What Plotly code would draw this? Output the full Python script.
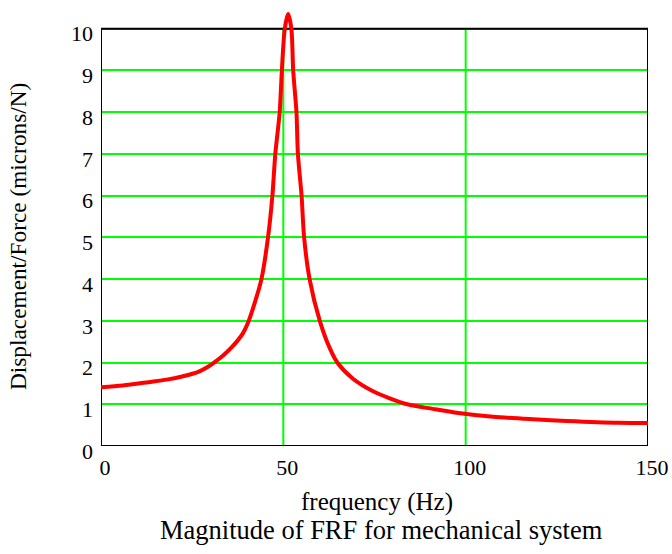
import plotly.graph_objects as go

freq_hz = [0, 6, 13, 18, 22.5, 27, 29, 31, 33.5, 36, 38.9, 40.6, 42.4, 44, 45.8, 47, 47.8, 49,
           49.6, 50.4, 51.3, 52.2, 52.7, 53.6, 54.0, 55.0, 55.7, 57.2, 60.0, 62.7, 64.8, 69.1,
           74.6, 79, 84, 91, 98, 107.5, 118.5, 127.7, 142, 150]
magnitude = [1.41, 1.45, 1.53, 1.59, 1.67, 1.79, 1.88, 2.0, 2.17, 2.38, 2.7, 3.02, 3.5, 4, 5,
             6, 7, 8, 9, 10, 10.35, 10, 9, 8, 7, 6, 5, 4, 3, 2.35, 2.0, 1.61,
             1.31, 1.15, 1.0, 0.89, 0.79, 0.70, 0.64, 0.60, 0.555, 0.55]

x_ticks = [0, 50, 100, 150]
y_ticks = list(range(0, 11))

FONT = "Liberation Serif"
ML, MR, MT, MB = 101, 24, 12, 108
W, H = 672, 554
PW, PH = W - ML - MR, H - MT - MB


def px_to_paper(px, py):
    return (px - ML) / PW, (H - MB - py) / PH


fig = go.Figure()
fig.add_trace(go.Scatter(x=freq_hz, y=magnitude, mode="lines",
                         line=dict(color="#ff0000", width=4, shape="spline", smoothing=0.8),
                         hoverinfo="skip", showlegend=False))

# vertical grid lines bounded by the frame
for xv in x_ticks[1:-1]:
    fig.add_shape(type="line", x0=xv, x1=xv, y0=0, y1=10, xref="x", yref="y",
                  line=dict(color="#00ff00", width=2), layer="between")

border = dict(color="black", width=2)
for x0, y0, x1, y1 in [(0, 0, 150, 0), (0, 10, 150, 10), (0, 0, 0, 10), (150, 0, 150, 10)]:
    fig.add_shape(type="line", x0=x0, y0=y0, x1=x1, y1=y1, xref="x", yref="y",
                  line=border, layer="between")

annots = []
for text, px, py, size, angle in [
    ("frequency (Hz)", 377, 502, 25, 0),
    ("Magnitude of FRF for mechanical system", 381, 530, 26.5, 0),
    ("Displacement/Force (microns/N)", 18, 237, 23.3, -90),
]:
    ax, ay = px_to_paper(px, py)
    annots.append(dict(text=text, x=ax, y=ay, xref="paper", yref="paper",
                       xanchor="center", yanchor="middle", showarrow=False,
                       textangle=angle, font=dict(size=size)))

fig.update_layout(
    width=W, height=H,
    margin=dict(l=ML, r=MR, t=MT, b=MB, autoexpand=False),
    plot_bgcolor="white", paper_bgcolor="white",
    font=dict(family=FONT, size=22, color="black"),
    xaxis=dict(range=[0, 150], tickvals=x_ticks, showgrid=False,
               zeroline=False, showline=False, ticks="", automargin=False,
               ticklabelstandoff=6, ticklabelshift=4, fixedrange=True),
    yaxis=dict(range=[0, 10.4], tickvals=y_ticks, showgrid=True, gridcolor="#00ff00",
               gridwidth=2, zeroline=False, showline=False, ticks="", automargin=False,
               ticklabelstandoff=7, ticklabelshift=5, fixedrange=True),
    annotations=annots,
)

fig.write_html("out.html", config={"displayModeBar": False},
               post_script="document.body.style.margin='0';document.body.style.padding='0';")
